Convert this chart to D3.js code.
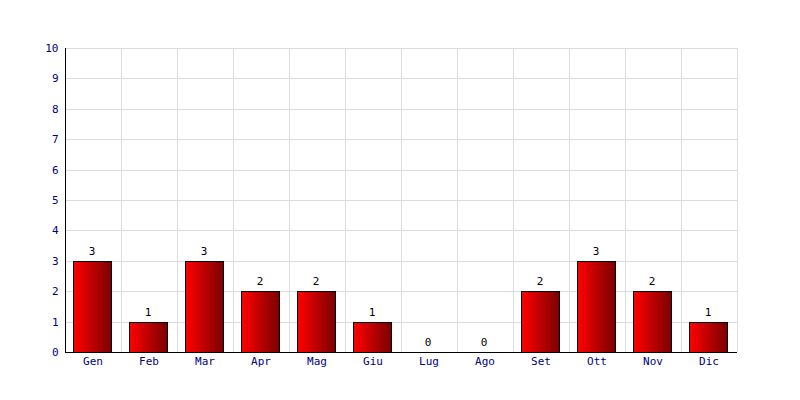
<!DOCTYPE html>
<html><head><meta charset="utf-8">
<script src="https://cdn.jsdelivr.net/npm/d3@7"></script>
<style>body{margin:0;background:#fff}</style>
</head><body>
<svg id="c" width="800" height="400"></svg>
<script>
const categories = ["Gen","Feb","Mar","Apr","Mag","Giu","Lug","Ago","Set","Ott","Nov","Dic"];
const values = [3,1,3,2,2,1,0,0,2,3,2,1];
const yTicks = [0,1,2,3,4,5,6,7,8,9,10];

const svg = d3.select("#c");
const m = {l:65, r:63, t:48, b:48};
const W = 800, H = 400;
const x = d3.scaleBand().domain(categories).range([m.l, W - m.r]).paddingInner(0.32).paddingOuter(0.16);
const xg = d3.scaleBand().domain(categories).range([m.l, W - m.r]);
const y = d3.scaleLinear().domain([0,10]).range([H - m.b, m.t]);
const data = values.map((v,i)=>({c:categories[i],v}));

const defs = svg.append("defs");
const g = defs.append("linearGradient").attr("id","bg").attr("x1","0").attr("x2","1").attr("y1","0").attr("y2","0");
g.append("stop").attr("offset","0").attr("stop-color","#ff0000");
g.append("stop").attr("offset","1").attr("stop-color","#7a0000");

// grid
svg.append("g").selectAll("line").data(yTicks).join("line")
  .attr("x1", m.l).attr("x2", W - m.r)
  .attr("y1", d => Math.round(y(d)) + 0.5).attr("y2", d => Math.round(y(d)) + 0.5)
  .attr("stroke", "#dcdcdc").attr("stroke-width", 1);
const vlines = categories.slice(1).map(c => xg(c)).concat([W - m.r]);
svg.append("g").selectAll("line").data(vlines).join("line")
  .attr("x1", d => Math.round(d) + 0.5).attr("x2", d => Math.round(d) + 0.5)
  .attr("y1", m.t).attr("y2", H - m.b)
  .attr("stroke", "#dcdcdc").attr("stroke-width", 1);

// bars
svg.append("g").selectAll("rect").data(data.filter(d => d.v > 0)).join("rect")
  .attr("x", d => Math.floor(x(d.c)) + 0.5)
  .attr("y", d => Math.round(y(d.v)) + 0.5)
  .attr("width", Math.round(x.bandwidth()))
  .attr("height", d => Math.round(y(0)) - Math.round(y(d.v)))
  .attr("fill", "url(#bg)")
  .attr("stroke", "#000").attr("stroke-width", 1);

// value labels
svg.append("g").selectAll("text").data(data).join("text")
  .attr("x", d => x(d.c) + x.bandwidth()/2 - 1)
  .attr("y", d => y(d.v) - 6)
  .attr("text-anchor", "middle")
  .attr("font-family", "DejaVu Sans Mono, monospace").attr("font-size", 11)
  .attr("fill", "#000").text(d => d.v);

// axes
const ya = d3.axisLeft(y).tickValues(yTicks).tickSize(0).tickPadding(7).tickFormat(d3.format("d"));
const yg = svg.append("g").attr("transform", `translate(${m.l + 0.5},0)`).call(ya);
yg.select(".domain").attr("stroke", "#000").attr("d", `M0,${m.t}V${H - m.b + 0.5}`);
yg.selectAll("text").attr("font-family", "DejaVu Sans Mono, monospace").attr("font-size", 11).attr("fill", "#000080");

const xa = d3.axisBottom(xg).tickSize(0).tickPadding(5);
const xgG = svg.append("g").attr("transform", `translate(0,${H - m.b + 0.5})`).call(xa);
xgG.select(".domain").attr("stroke", "#000").attr("d", `M${m.l},0H${W - m.r}`);
xgG.selectAll("text").attr("font-family", "DejaVu Sans Mono, monospace").attr("font-size", 11).attr("fill", "#000080");
</script>
</body></html>
